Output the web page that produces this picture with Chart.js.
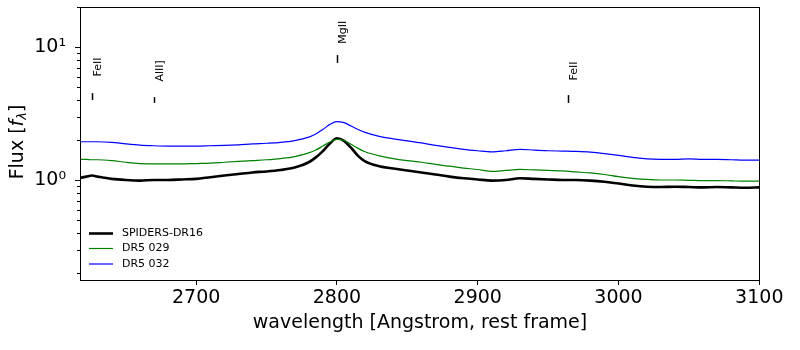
<!DOCTYPE html>
<html>
<head>
<meta charset="utf-8">
<script src="https://cdn.jsdelivr.net/npm/chart.js@4.4.1/dist/chart.umd.min.js"></script>
<style>
  html, body { margin: 0; padding: 0; background: #fff; }
  #wrap { width: 800px; height: 350px; }
</style>
</head>
<body>
<div id="wrap"><canvas id="spec"></canvas></div>
<script>
// wavelength grid [Angstrom, rest frame]
const waves = [2618, 2622, 2626, 2630, 2640, 2650, 2660, 2670, 2680, 2690, 2700, 2710, 2720, 2730, 2740,
  2750, 2760, 2770, 2780, 2785, 2790, 2795, 2800, 2805, 2810, 2815, 2820, 2830, 2840, 2850, 2860,
  2870, 2880, 2890, 2900, 2910, 2920, 2930, 2940, 2950, 2960, 2970, 2980, 2990, 3000, 3010, 3020,
  3030, 3040, 3050, 3060, 3070, 3080, 3090, 3100];

const spiders = [1.04, 1.06, 1.08, 1.06, 1.02, 1.00, 0.99, 1.00, 1.00, 1.01, 1.02, 1.05, 1.08, 1.11, 1.14,
  1.16, 1.19, 1.24, 1.36, 1.48, 1.65, 1.88, 2.06, 1.97, 1.75, 1.52, 1.38, 1.27, 1.22, 1.18, 1.14,
  1.10, 1.06, 1.03, 1.01, 0.99, 1.00, 1.03, 1.02, 1.01, 1.00, 1.00, 0.99, 0.97, 0.94, 0.91, 0.89,
  0.885, 0.89, 0.885, 0.88, 0.885, 0.88, 0.875, 0.88];

const dr5_029 = [1.43, 1.43, 1.42, 1.42, 1.40, 1.36, 1.33, 1.32, 1.32, 1.32, 1.33, 1.34, 1.36, 1.38, 1.40,
  1.42, 1.45, 1.50, 1.60, 1.68, 1.80, 1.93, 2.02, 1.98, 1.86, 1.73, 1.63, 1.52, 1.45, 1.40, 1.36,
  1.31, 1.27, 1.23, 1.20, 1.16, 1.18, 1.20, 1.19, 1.18, 1.17, 1.15, 1.13, 1.10, 1.06, 1.03, 1.01,
  1.00, 1.00, 0.995, 0.99, 0.99, 0.985, 0.98, 0.98];

const dr5_032 = [1.94, 1.94, 1.94, 1.94, 1.92, 1.87, 1.83, 1.81, 1.80, 1.80, 1.80, 1.81, 1.82, 1.84, 1.87,
  1.89, 1.92, 1.98, 2.10, 2.22, 2.40, 2.62, 2.75, 2.70, 2.55, 2.40, 2.28, 2.13, 2.04, 1.97, 1.90,
  1.82, 1.76, 1.70, 1.66, 1.63, 1.66, 1.70, 1.68, 1.66, 1.65, 1.64, 1.62, 1.58, 1.53, 1.48, 1.44,
  1.43, 1.43, 1.44, 1.43, 1.43, 1.42, 1.41, 1.41];

const seriesNames = ['SPIDERS-DR16', 'DR5 029', 'DR5 032'];

// emission line markers
const lineNames = ['FeII', 'AlII]', 'MgII', 'FeII'];
const lineWaves = [2626, 2670, 2800, 2964];
const markLo = [4.0, 3.8, 7.6, 3.8];
const markHi = [4.5, 4.2, 8.7, 4.35];
const labelY = [6.0, 5.5, 10.6, 5.6];

// ticks
const xTicks = [2700, 2800, 2900, 3000, 3100];
const yTickValues = [0.2, 0.3, 0.4, 0.5, 0.6, 0.7, 0.8, 0.9, 1, 2, 3, 4, 5, 6, 7, 8, 9, 10, 20];
const yMajor = [1, 10];
const yMajorLabels = ['10\u2070', '10\u00b9'];

const FONT = '"DejaVu Sans", sans-serif';

function pts(ys) {
  return waves.map((w, i) => ({ x: w, y: ys[i] }));
}

// draws the box, y ticks, y title, line markers and legend
const extras = {
  id: 'extras',
  afterDraw(chart) {
    const ctx = chart.ctx;
    const area = chart.chartArea;
    const xs = chart.scales.x;
    const ys = chart.scales.y;
    ctx.save();

    // frame
    ctx.strokeStyle = '#000';
    ctx.lineWidth = 1;
    ctx.strokeRect(Math.round(area.left) + 0.5, Math.round(area.top) + 0.5,
      Math.round(area.right - area.left) - 1, Math.round(area.bottom - area.top));

    // y tick marks (major longer than minor)
    yTickValues.forEach((v) => {
      const py = Math.round(ys.getPixelForValue(v)) + 0.5;
      const len = yMajor.includes(v) ? 5 : 3;
      ctx.beginPath();
      ctx.moveTo(area.left, py);
      ctx.lineTo(area.left - len, py);
      ctx.stroke();
    });

    // y title: Flux [f_lambda]
    ctx.fillStyle = '#000';
    ctx.textBaseline = 'middle';
    ctx.textAlign = 'left';
    const parts = [
      { t: 'Flux [', f: '19px ' + FONT, dy: 0 },
      { t: 'f', f: 'italic 19px ' + FONT, dy: 0 },
      { t: '\u03bb', f: 'italic 13px ' + FONT, dy: 5 },
      { t: ']', f: '19px ' + FONT, dy: 0 }
    ];
    let total = 0;
    parts.forEach((p) => { ctx.font = p.f; p.w = ctx.measureText(p.t).width; total += p.w; });
    ctx.save();
    ctx.translate(18, 142);
    ctx.rotate(-Math.PI / 2);
    let cx = -total / 2;
    parts.forEach((p) => { ctx.font = p.f; ctx.fillText(p.t, cx, p.dy); cx += p.w; });
    ctx.restore();

    // emission line markers
    ctx.font = '11px ' + FONT;
    lineNames.forEach((name, i) => {
      const px = Math.round(xs.getPixelForValue(lineWaves[i])) + 0.5;
      ctx.lineWidth = 1.5;
      ctx.beginPath();
      ctx.moveTo(px, ys.getPixelForValue(markLo[i]));
      ctx.lineTo(px, ys.getPixelForValue(markHi[i]));
      ctx.stroke();
      ctx.save();
      ctx.translate(px + 6, ys.getPixelForValue(labelY[i]));
      ctx.rotate(-Math.PI / 2);
      ctx.textAlign = 'left';
      ctx.textBaseline = 'middle';
      ctx.fillText(name, 0, 0);
      ctx.restore();
    });

    // legend, lower left
    const rows = [233.5, 248.5, 264];
    chart.data.datasets.forEach((ds, i) => {
      ctx.strokeStyle = ds.borderColor;
      ctx.lineWidth = ds.borderWidth;
      ctx.beginPath();
      ctx.moveTo(89, rows[i]);
      ctx.lineTo(113, rows[i]);
      ctx.stroke();
      ctx.fillStyle = '#000';
      ctx.font = '11px ' + FONT;
      ctx.textAlign = 'left';
      ctx.textBaseline = 'middle';
      ctx.fillText(ds.label, 122, rows[i]);
    });
    ctx.restore();
  }
};

new Chart(document.getElementById('spec'), {
  type: 'line',
  data: {
    datasets: [
      { label: seriesNames[0], data: pts(spiders), borderColor: '#000000', borderWidth: 2.6, order: 3 },
      { label: seriesNames[1], data: pts(dr5_029), borderColor: '#008000', borderWidth: 1.2, order: 2 },
      { label: seriesNames[2], data: pts(dr5_032), borderColor: '#0000ff', borderWidth: 1.2, order: 1 }
    ]
  },
  options: {
    responsive: true,
    maintainAspectRatio: false,
    animation: false,
    devicePixelRatio: 1,
    layout: { padding: { left: 0, right: 40, top: 7, bottom: 0 } },
    elements: {
      point: { radius: 0 },
      line: { cubicInterpolationMode: 'monotone', fill: false }
    },
    plugins: { legend: { display: false }, tooltip: { enabled: false } },
    scales: {
      x: {
        type: 'linear',
        min: 2617.5,
        max: 3100.5,
        afterFit: (s) => { s.height = 70; s.paddingLeft = 0; s.paddingRight = 0; },
        afterBuildTicks: (s) => { s.ticks = xTicks.map((v) => ({ value: v })); },
        border: { display: false },
        grid: { drawOnChartArea: false, tickLength: 5, tickColor: '#000', tickWidth: 1 },
        ticks: {
          color: '#000',
          font: { family: FONT, size: 19 },
          padding: 2,
          maxRotation: 0,
          callback: (v) => String(v)
        },
        title: {
          display: true,
          text: 'wavelength [Angstrom, rest frame]',
          color: '#000',
          font: { family: FONT, size: 19 },
          padding: { top: 0, bottom: 16 }
        }
      },
      y: {
        type: 'logarithmic',
        min: 0.177,
        max: 20,
        afterFit: (s) => { s.width = 80; s.paddingTop = 0; s.paddingBottom = 0; },
        afterBuildTicks: (s) => { s.ticks = yTickValues.map((v) => ({ value: v })); },
        border: { display: false },
        grid: { display: false },
        ticks: {
          autoSkip: false,
          color: '#000',
          font: (c) => ({ family: FONT, size: c.tick && yMajor.includes(c.tick.value) ? 19 : 1 }),
          padding: 6,
          callback: (v) => {
            const k = yMajor.indexOf(v);
            return k >= 0 ? yMajorLabels[k] : '';
          }
        }
      }
    }
  },
  plugins: [extras]
});
</script>
</body>
</html>
